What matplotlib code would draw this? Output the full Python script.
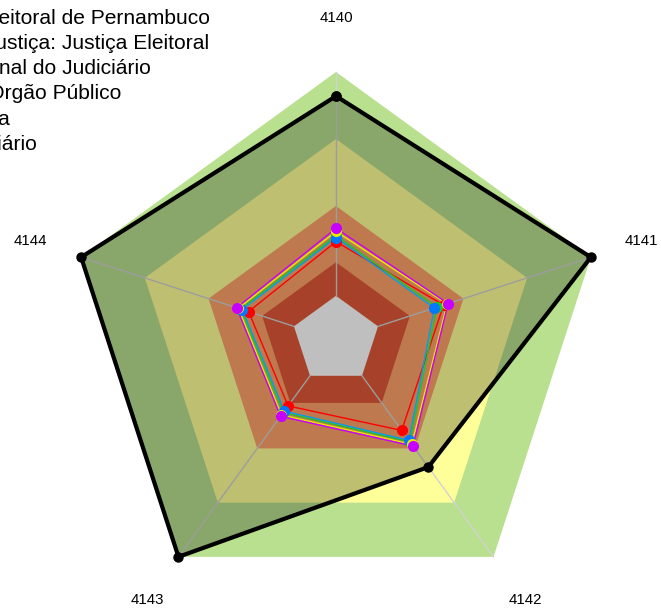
import numpy as np
import matplotlib.pyplot as plt

plt.rcParams['font.family'] = ['Liberation Sans', 'DejaVu Sans']

eixos = ['4140', '4141', '4142', '4143', '4144']

# faixas de fundo (de fora para dentro)
faixas = [100, 75, 50, 29, 16.5]
cores_faixas = ['#B8E08E', '#FFFF99', '#FFA26A', '#E05838', '#FFFFFF']

nomes = ['Tribunal Regional Eleitoral de Pernambuco',
         'Segmento de Justiça: Justiça Eleitoral',
         'Média Nacional do Judiciário',
         'Média por Órgão Público',
         'Média Geral da Justiça',
         'Média do Poder Judiciário']

tre_pe = [91.0, 100.0, 58.6, 100.0, 100.0]
seg_eleitoral = [36.7, 42.2, 41.7, 30.4, 34.3]
media_nacional = [39.0, 39.6, 47.0, 33.5, 37.5]
orgao_publico = [38.2, 38.6, 46.3, 32.8, 36.8]
media_geral = [40.5, 43.6, 48.1, 34.6, 38.3]
judiciario = [41.7, 44.0, 48.9, 35.2, 39.0]

series = [seg_eleitoral, media_nacional, orgao_publico, media_geral, judiciario]
cores = ['#FF0000', '#22C422', '#0078FF', '#E8E800', '#C800FF']
cores_linha = ['#FF0000', '#22C422', '#00A0E8', '#E8E800', '#C800FF']

ang = np.deg2rad(90 - 72 * np.arange(len(eixos)))


def xy(vals):
    v = np.append(vals, vals[0])
    a = np.append(ang, ang[0])
    return v * np.cos(a), v * np.sin(a)


fig = plt.figure(figsize=(6.61, 6.12), dpi=100)
ax = fig.add_axes([0, 0, 1, 1])
ax.set_xlim(-125.37, 121.27)
ax.set_ylim(-101.49, 126.87)
ax.axis('off')

for f, c in zip(faixas, cores_faixas):
    x, y = xy([f] * len(eixos))
    ax.fill(x, y, color=c, lw=0, zorder=1)

for a in ang:
    ax.plot([faixas[-1] * np.cos(a), 100 * np.cos(a)],
            [faixas[-1] * np.sin(a), 100 * np.sin(a)],
            color='#D2D2D2', lw=1, zorder=2)

# serie principal
x, y = xy(tre_pe)
ax.fill(x, y, color='black', alpha=0.25, lw=0, zorder=3)
ax.plot(x, y, color='black', lw=3, marker='o', ms=6.5, zorder=4)

for s, c, cl in zip(series, cores, cores_linha):
    x, y = xy(s)
    ax.plot(x, y, color=cl, lw=1, zorder=5)
    ax.plot(x[:-1], y[:-1], ls='none', marker='o', ms=7, color=c, zorder=6)

for nome, a in zip(eixos, ang):
    ax.text(120 * np.cos(a), 120 * np.sin(a), nome, ha='center', va='center',
            fontsize=10.8)

# legenda (cortada na borda esquerda)
fins = [210, 209.5, 151, 121, 10, 37]
for i, nome in enumerate(nomes):
    fig.text(fins[i] / 661, 1 - (23.5 + 25.3 * i) / 612, nome,
             ha='right', va='baseline', fontsize=15.1)

fig.text(0.004, 1 - 614 / 612, '0%', ha='left', va='top', fontsize=11)

fig.savefig('out.png', dpi=100)
